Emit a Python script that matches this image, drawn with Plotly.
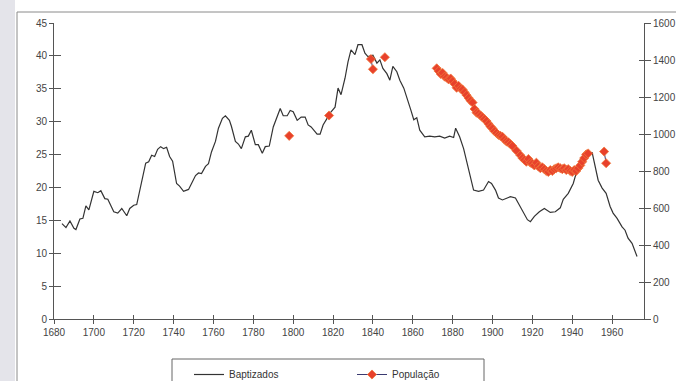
import plotly.graph_objects as go

# ---- data ----
bapt_years = [1684, 1686, 1688, 1690, 1691, 1693, 1694.5, 1696, 1697.5, 1700, 1702, 1703.5, 1705.5, 1707,
              1710, 1712, 1714, 1716.5, 1718, 1720, 1721.5, 1724, 1726, 1727.5, 1729, 1730.5, 1732, 1733.5,
              1735, 1736.5, 1738, 1739.5, 1741.5, 1743, 1745, 1747.5, 1749, 1751, 1752.5, 1754, 1756, 1757.5,
              1759, 1761, 1762.5, 1764.5, 1766, 1768, 1769, 1771, 1772.5, 1774, 1776, 1777.5, 1779, 1781,
              1782.5, 1784.5, 1786, 1788, 1790, 1791.5, 1793.5, 1795, 1797, 1798.5, 1800, 1802, 1804, 1806,
              1807.5, 1809, 1812, 1813.5, 1815, 1817, 1819, 1821, 1822.5, 1824, 1826, 1827.5, 1829, 1831,
              1832.5, 1834.5, 1836, 1837.5, 1840, 1842, 1843.5, 1845, 1847, 1848.5, 1850, 1852, 1853.5,
              1855.5, 1857, 1859, 1860.5, 1862, 1863.5, 1866, 1868.5, 1871, 1873.5, 1876, 1878.5, 1880.5,
              1881.5, 1883.5, 1885.5, 1887, 1888.5, 1890.5, 1893, 1895.5, 1898, 1899.5, 1901.5, 1903, 1905,
              1906.5, 1909, 1911.5, 1913, 1915.5, 1917.5, 1919, 1921, 1923.5, 1926, 1929, 1931.5, 1934,
              1935.5, 1938, 1940.5, 1942.5, 1944, 1945.5, 1948, 1950, 1951.5, 1953, 1955, 1957, 1959,
              1960.5, 1962.5, 1965, 1966.5, 1968, 1970, 1972.5]
bapt_values = [14.5, 13.9, 14.9, 13.8, 13.6, 15.2, 15.3, 17.2, 16.6, 19.4, 19.2, 19.5, 18.3, 18.2,
               16.3, 16.1, 16.8, 15.7, 16.8, 17.3, 17.4, 21.1, 23.7, 23.9, 24.9, 24.7, 25.8, 26.2,
               25.9, 26.1, 24.7, 24.0, 20.6, 20.2, 19.4, 19.7, 20.6, 21.8, 22.2, 22.1, 23.2, 23.6,
               25.4, 27.0, 29.0, 30.5, 30.9, 30.2, 29.3, 27.0, 26.6, 25.9, 27.7, 27.8, 28.7, 26.5,
               26.5, 25.2, 26.2, 26.3, 29.2, 30.5, 32.0, 30.9, 30.9, 31.7, 31.5, 30.2, 30.7, 30.7,
               29.5, 29.2, 28.1, 28.1, 29.5, 30.5, 31.5, 32.2, 35.1, 34.1, 36.6, 39.1, 40.9, 40.2,
               41.7, 41.7, 40.4, 39.9, 40.1, 38.9, 39.4, 38.1, 37.3, 36.3, 38.4, 37.6, 36.3,
               35.1, 33.8, 31.8, 30.3, 30.6, 28.7, 27.7, 27.8, 27.7, 27.8, 27.5, 27.8, 27.6,
               29.0, 27.7, 25.9, 23.9, 22.1, 19.6, 19.4, 19.6, 20.9, 20.6, 19.6, 18.4, 18.1,
               18.3, 18.6, 18.4, 17.6, 16.3, 15.1, 14.8, 15.6, 16.3, 16.8, 16.2, 16.3, 16.9,
               18.2, 19.1, 20.6, 22.7, 24.2, 24.9, 25.2, 25.3, 23.2, 21.1, 19.9, 19.1, 17.1,
               16.1, 15.3, 14.0, 13.5, 12.3, 11.5, 9.5]

pop_years = [1798, 1799, 1818, 1819, 1839, 1840, 1841, 1846, 1847,
             1872, 1873, 1874, 1875, 1876, 1877, 1878, 1879, 1880, 1881, 1882, 1883, 1884, 1885,
             1886, 1887, 1888, 1889, 1890, 1891, 1892, 1893, 1894, 1895, 1896, 1897, 1898, 1899,
             1900, 1901, 1902, 1903, 1904, 1905, 1906, 1907, 1908, 1909, 1910, 1911, 1912, 1913,
             1914, 1915, 1916, 1917, 1918, 1919, 1920, 1921, 1922, 1923, 1924, 1925, 1926, 1927,
             1928, 1929, 1930, 1931, 1932, 1933, 1934, 1935, 1936, 1937, 1938, 1939, 1940, 1941,
             1942, 1943, 1944, 1945, 1946, 1947, 1948, 1949, 1956, 1957]
pop_values = [990, None, 1100, None, 1405, 1350, None, 1415, None,
              1355, 1340, 1325, 1330, 1310, 1305, 1295, 1300, 1285, 1270, 1250, 1260, 1245, 1240,
              1225, 1210, 1195, 1180, 1170, 1135, 1115, 1110, 1100, 1090, 1080, 1070, 1055, 1040,
              1030, 1015, 1005, 995, 990, 985, 970, 960, 955, 945, 935, None, 910, None,
              885, 870, 860, 850, 865, 845, 840, 830, 845, 825, 815, 820, 810, 800,
              795, 805, 800, 810, 815, 820, 815, 810, 815, 805, 810, 800, 795, 805,
              800, 815, 830, 850, 870, 890, 895, None, 905, 842]

x_ticks = list(range(1680, 1961, 20))
left_ticks = list(range(0, 46, 5))
right_ticks = list(range(0, 1601, 200))

FONT = "Liberation Sans, Arial, sans-serif"
AX = "#555555"

fig = go.Figure()
fig.add_trace(go.Scatter(x=bapt_years, y=bapt_values, mode="lines", name="Baptizados",
                         line=dict(color="#333333", width=1.2), xaxis="x", yaxis="y"))
fig.add_trace(go.Scatter(x=pop_years, y=pop_values, mode="lines+markers", name="População",
                         line=dict(color="#3a3a70", width=1),
                         marker=dict(symbol="diamond", size=7, color="#e8412c",
                                     line=dict(color="#f0763a", width=0.8)),
                         xaxis="x", yaxis="y2"))
# invisible helpers for the inner half of the crossing ticks
fig.add_trace(go.Scatter(x=[], y=[], xaxis="x2", yaxis="y3", showlegend=False, hoverinfo="skip"))
fig.add_trace(go.Scatter(x=[], y=[], xaxis="x2", yaxis="y4", showlegend=False, hoverinfo="skip"))

xr = [1680, 1976]
common = dict(showgrid=False, zeroline=False, tickfont=dict(family=FONT, size=10, color="#444444"),
              tickcolor=AX, tickwidth=1)

fig.update_layout(
    width=676, height=381,
    margin=dict(l=54, r=32, t=23, b=62, autoexpand=False),
    paper_bgcolor="white", plot_bgcolor="white",
    font=dict(family=FONT, size=10, color="#333333"),
    xaxis=dict(range=xr, tickvals=x_ticks, ticks="outside", ticklen=4, showline=True,
               linecolor=AX, linewidth=1, **common),
    xaxis2=dict(range=xr, overlaying="x", tickvals=x_ticks, ticks="inside", ticklen=4,
                showticklabels=False, showline=False, anchor="y3", **common),
    yaxis=dict(range=[0, 45], tickvals=left_ticks, ticks="outside", ticklen=4, showline=True,
               linecolor=AX, linewidth=1, **common),
    yaxis2=dict(range=[0, 1600], tickvals=right_ticks, ticks="outside", ticklen=6, side="right",
                overlaying="y", showline=True, linecolor=AX, linewidth=1, anchor="x", **common),
    yaxis3=dict(range=[0, 45], tickvals=left_ticks, ticks="inside", ticklen=7, side="left",
                overlaying="y", showticklabels=False, showline=False, anchor="x2", **common),
    yaxis4=dict(range=[0, 1600], tickvals=right_ticks, ticks="inside", ticklen=5, side="right",
                overlaying="y", showticklabels=False, showline=False, anchor="x2", **common),
    legend=dict(orientation="h", x=(189 - 54) / 590, xanchor="left", y=(319 - 360) / 296,
                yanchor="top", bgcolor="rgba(0,0,0,0)", borderwidth=0,
                font=dict(family=FONT, size=10, color="#333333"),
                entrywidth=118, entrywidthmode="pixels"),
    showlegend=True,
    shapes=[
        dict(type="rect", xref="paper", yref="paper", x0=-54 / 590, x1=-39 / 590, y0=-0.4, y1=1.2,
             fillcolor="#e4e4ea", line=dict(width=0), layer="below"),
        dict(type="rect", xref="paper", yref="paper", x0=(17 - 54) / 590, x1=1.3,
             y0=(319 - 12) / 296, y1=-0.5, line=dict(color="#8a8a8a", width=1),
             fillcolor="rgba(0,0,0,0)", layer="below"),
        dict(type="rect", xref="paper", yref="paper", x0=(172 - 54) / 590, x1=(484 - 54) / 590,
             y0=(319 - 359) / 296, y1=-0.4, line=dict(color="#666666", width=1),
             fillcolor="rgba(0,0,0,0)", layer="below"),
    ],
)

fig.write_html("out.html", config={"displayModeBar": False},
               post_script="document.body.style.margin='0px';document.body.style.overflow='hidden';")
